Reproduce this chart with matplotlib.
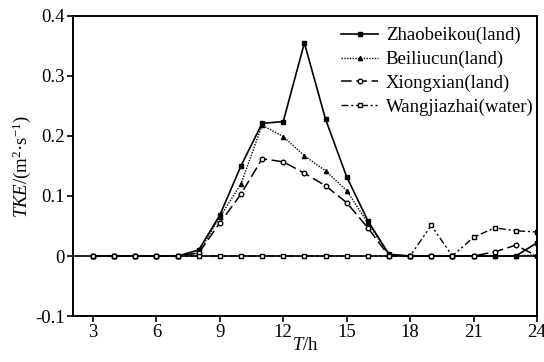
import matplotlib
matplotlib.use("Agg")
import matplotlib.pyplot as plt

plt.rcParams['font.family'] = ['Liberation Serif', 'DejaVu Serif']
plt.rcParams['mathtext.fontset'] = 'custom'
plt.rcParams['mathtext.rm'] = 'Liberation Serif'
plt.rcParams['mathtext.it'] = 'Liberation Serif:italic'

hours = list(range(3, 25))
zhaobeikou = [0, 0, 0, 0, 0, 0.010, 0.068, 0.150, 0.221, 0.224, 0.355, 0.228, 0.132, 0.059, 0.003, 0, 0, 0, 0, 0, 0, 0.022]
beiliucun  = [0, 0, 0, 0, 0, 0.005, 0.065, 0.120, 0.218, 0.199, 0.167, 0.142, 0.109, 0.055, 0.002, 0, 0, 0, 0, 0, 0, 0.002]
xiongxian  = [0, 0, 0, 0, 0, 0.005, 0.055, 0.103, 0.162, 0.157, 0.138, 0.117, 0.089, 0.047, 0, 0, 0, 0, 0, 0.007, 0.018, 0]
wangjiazhai = [0, 0, 0, 0, 0, 0, 0, 0, 0, 0, 0, 0, 0, 0, 0, 0, 0.051, 0, 0.031, 0.047, 0.042, 0.040]

labels = ['Zhaobeikou(land)', 'Beiliucun(land)', 'Xiongxian(land)', 'Wangjiazhai(water)']

fig = plt.figure(figsize=(5.44, 3.62), dpi=100)
ax = fig.add_axes([0.134, 0.127, 0.853, 0.829])

ax.plot(hours, zhaobeikou, color='black', lw=1.2, ls='-', marker='s', ms=3,
        mfc='black', label=labels[0])
ax.plot(hours, beiliucun, color='black', lw=1.0, ls=(0, (1, 1)), marker='^', ms=3,
        mfc='black', label=labels[1])
ax.plot(hours, xiongxian, color='black', lw=1.1, ls=(0, (7, 3)), marker='o', ms=3.3,
        mfc='white', label=labels[2])
ax.plot(hours, wangjiazhai, color='black', lw=1.0, ls=(0, (5, 2, 1.5, 2, 1.5, 2)), marker='s', ms=3.3,
        mfc='white', label=labels[3])
ax.axhline(0, color='black', lw=1.2, zorder=0)

ax.set_xlim(2.05, 24)
ax.set_ylim(-0.1, 0.4)
ax.set_xticks([3, 6, 9, 12, 15, 18, 21, 24])
ax.set_yticks([-0.1, 0, 0.1, 0.2, 0.3, 0.4])
ax.set_yticklabels(['-0.1', '0', '0.1', '0.2', '0.3', '0.4'])
ax.tick_params(direction='out', labelsize=13.5, length=4, width=1.2, top=False, right=False, pad=2)
for s in ax.spines.values():
    s.set_linewidth(1.4)

ax.set_xlabel(r'$\mathit{T}$/h', fontsize=13.5, labelpad=-3)
ax.set_ylabel(r'$\mathit{TKE}$/(m$^{2}$·s$^{-1}$)', fontsize=13.5, labelpad=1)

ax.legend(loc='upper right', bbox_to_anchor=(1.009, 0.9875), frameon=False, fontsize=13.5,
          handlelength=2.0, handletextpad=0.4, labelspacing=0.34, borderaxespad=0)

fig.savefig('out.png', dpi=100)
